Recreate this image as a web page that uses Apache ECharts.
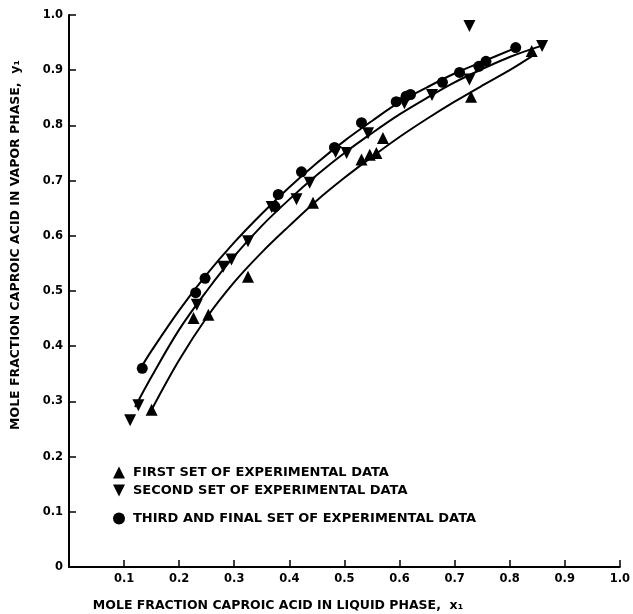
<!DOCTYPE html>
<html><head><meta charset="utf-8">
<script src="https://cdn.jsdelivr.net/npm/echarts@6/dist/echarts.min.js"></script>
<style>html,body{margin:0;padding:0;background:#fff}#c{width:633px;height:614px}</style>
</head><body><div id="c"></div>
<script>
// Experimental data (x1 liquid, y1 vapor)
const set1 = [[0.15,0.285],[0.226,0.451],[0.253,0.457],[0.325,0.526],[0.443,0.66],[0.531,0.738],[0.546,0.747],[0.558,0.75],[0.57,0.777],[0.73,0.852],[0.84,0.935]];
const set2 = [[0.111,0.266],[0.126,0.293],[0.232,0.475],[0.28,0.544],[0.295,0.557],[0.325,0.59],[0.368,0.652],[0.413,0.666],[0.437,0.696],[0.484,0.752],[0.504,0.75],[0.543,0.786],[0.609,0.84],[0.659,0.855],[0.727,0.883],[0.727,0.98],[0.859,0.944]];
const set3 = [[0.133,0.36],[0.23,0.497],[0.247,0.523],[0.374,0.653],[0.38,0.675],[0.422,0.716],[0.482,0.76],[0.531,0.805],[0.594,0.843],[0.612,0.853],[0.62,0.856],[0.678,0.878],[0.709,0.896],[0.744,0.907],[0.757,0.916],[0.811,0.941]];
// Fitted curves
const curve1 = [[0.15,0.285],[0.2,0.375],[0.25,0.452],[0.3,0.516],[0.35,0.57],[0.4,0.618],[0.45,0.664],[0.5,0.705],[0.55,0.743],[0.6,0.779],[0.65,0.812],[0.7,0.843],[0.75,0.872],[0.8,0.9],[0.84,0.925]];
const curve2 = [[0.12,0.29],[0.15,0.345],[0.2,0.43],[0.25,0.5],[0.3,0.563],[0.35,0.618],[0.4,0.666],[0.45,0.71],[0.5,0.75],[0.55,0.786],[0.6,0.82],[0.65,0.85],[0.7,0.878],[0.75,0.902],[0.8,0.924],[0.86,0.945]];
const curve3 = [[0.13,0.36],[0.15,0.392],[0.2,0.465],[0.25,0.53],[0.3,0.588],[0.35,0.64],[0.4,0.688],[0.45,0.732],[0.5,0.772],[0.55,0.808],[0.6,0.842],[0.65,0.869],[0.7,0.894],[0.75,0.915],[0.81,0.94]];
const names = ['FIRST SET OF EXPERIMENTAL DATA','SECOND SET OF EXPERIMENTAL DATA','THIRD AND FINAL SET OF EXPERIMENTAL DATA'];
const xTitle = 'MOLE FRACTION CAPROIC ACID IN LIQUID PHASE,  x\u2081';
const yTitle = 'MOLE FRACTION CAPROIC ACID IN VAPOR PHASE,  y\u2081';

const FONT = 'DejaVu Sans';
const upTri = 'path://M5,0L10,10L0,10Z';
const downTri = 'path://M0,0L10,0L5,10Z';

const chart = echarts.init(document.getElementById('c'), null, {renderer:'canvas'});
const axisCommon = {
  type:'value', min:0, max:1, interval:0.1,
  axisLine:{show:true, onZero:false, lineStyle:{color:'#000', width:2}},
  axisTick:{show:true, inside:true, length:7, lineStyle:{color:'#000', width:1.5}},
  splitLine:{show:false}
};
const legendCommon = {
  orient:'vertical', padding:0, itemWidth:18, itemHeight:12, itemGap:0,
  selectedMode:false,
  textStyle:{fontFamily:FONT, fontWeight:'bold', fontSize:13, color:'#000'}
};
const lineStyle = {color:'#000', width:2};
chart.setOption({
  animation:false,
  backgroundColor:'#fff',
  grid:{left:69, right:12, top:15, bottom:47, containLabel:false},
  xAxis: Object.assign({}, axisCommon, {
    axisLabel:{margin:6, fontFamily:FONT, fontWeight:'bold', fontSize:11.5, color:'#000',
      formatter:v => v === 0 ? '' : v.toFixed(1)}
  }),
  yAxis: Object.assign({}, axisCommon, {
    axisLabel:{margin:6, fontFamily:FONT, fontWeight:'bold', fontSize:11.5, color:'#000',
      formatter:v => v === 0 ? '0' : v.toFixed(1)}
  }),
  legend:[
    Object.assign({}, legendCommon, {data:[names[0]], left:113, top:466}),
    Object.assign({}, legendCommon, {data:[names[1]], left:113, top:484}),
    Object.assign({}, legendCommon, {data:[names[2]], left:113, top:512})
  ],
  graphic:[
    {type:'text', x:278, y:606, style:{text:xTitle, font:'bold 12.5px "DejaVu Sans"', fill:'#000', align:'center', verticalAlign:'middle'}},
    {type:'text', x:16, y:245, rotation:Math.PI/2, style:{text:yTitle, font:'bold 12.5px "DejaVu Sans"', fill:'#000', align:'center', verticalAlign:'middle'}}
  ],
  series:[
    {name:'fit1', type:'line', data:curve1, smooth:0.35, showSymbol:false, lineStyle:lineStyle, silent:true, z:2},
    {name:'fit2', type:'line', data:curve2, smooth:0.35, showSymbol:false, lineStyle:lineStyle, silent:true, z:2},
    {name:'fit3', type:'line', data:curve3, smooth:0.35, showSymbol:false, lineStyle:lineStyle, silent:true, z:2},
    {name:names[0], type:'scatter', data:set1, symbol:upTri, symbolSize:12, itemStyle:{color:'#000', opacity:1}, z:3},
    {name:names[1], type:'scatter', data:set2, symbol:downTri, symbolSize:12, itemStyle:{color:'#000', opacity:1}, z:3},
    {name:names[2], type:'scatter', data:set3, symbol:'circle', symbolSize:11, itemStyle:{color:'#000', opacity:1}, z:3}
  ]
});
</script>
</body></html>
